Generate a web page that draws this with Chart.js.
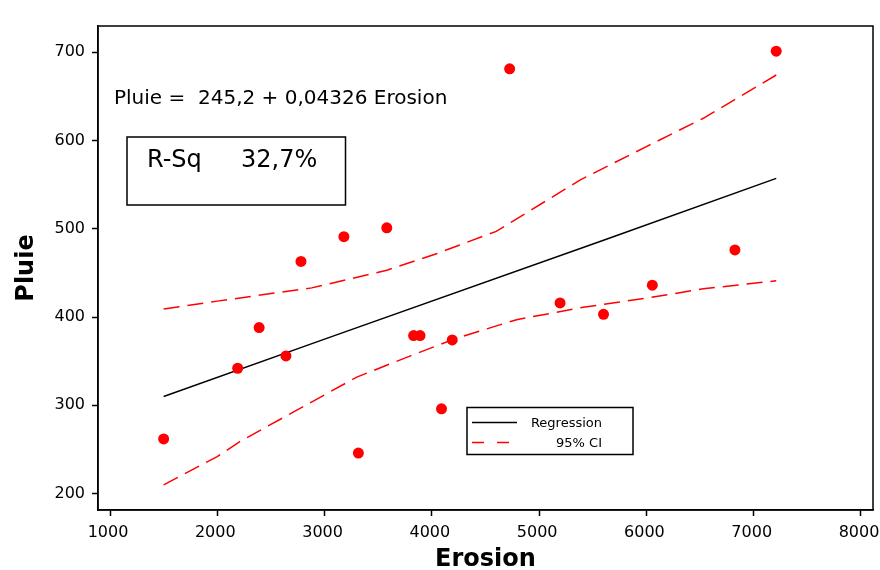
<!DOCTYPE html>
<html>
<head>
<meta charset="utf-8">
<script src="https://cdn.jsdelivr.net/npm/chart.js@4/dist/chart.umd.min.js"></script>
<style>
  body { margin: 0; background: #fff; }
  canvas { display: block; }
</style>
</head>
<body>
<canvas id="regChart" width="880" height="570"></canvas>
<script>
const erosion = [1500, 2190, 2390, 2640, 2780, 3180, 3580, 3315, 3830, 3890, 4090, 4190, 4725, 5195, 5600, 6055, 6825, 7210];
const pluie = [262, 342, 388, 356, 463, 491, 501, 246, 379, 379, 296, 374, 681, 416, 403, 436, 476, 701];

// fitted line and 95% CI bands, as drawn
const regX = [1500, 3000, 5600, 7210];
const regY = [310, 375, 487, 557];
const ciUpperX = [1500, 2000, 2880, 3580, 4050, 4600, 5380, 6000, 6530, 7210];
const ciUpperY = [409, 418, 433, 453, 472, 497, 555, 593, 625, 674];
const ciLowerX = [1500, 2000, 2210, 3300, 3800, 4230, 4790, 5410, 6035, 6530, 7210];
const ciLowerY = [210, 242, 259, 332, 356, 376, 397, 411, 422, 432, 441];

const xTicks = [1000, 2000, 3000, 4000, 5000, 6000, 7000, 8000];
const yTicks = [200, 300, 400, 500, 600, 700];

const xTitle = "Erosion";
const yTitle = "Pluie";
const equationText = "Pluie =  245,2 + 0,04326 Erosion";
const rSqLabel = "R-Sq";
const rSqValue = "32,7%";
const legendLabels = ["Regression", "95% CI"];

const FONT = "'DejaVu Sans', Verdana, sans-serif";
const RED = "#ff0000";

function pairs(xs, ys) {
  return xs.map((x, i) => ({ x: x, y: ys[i] }));
}

// frame, equation, R-Sq box and legend box
const annotations = {
  id: "annotations",
  afterDraw(chart) {
    const ctx = chart.ctx;
    const a = chart.chartArea;
    ctx.save();
    ctx.strokeStyle = "#000";
    ctx.lineWidth = 1.5;
    ctx.strokeRect(a.left, a.top, a.right - a.left, a.bottom - a.top);

    ctx.fillStyle = "#000";
    ctx.textBaseline = "alphabetic";
    ctx.font = "20px " + FONT;
    ctx.fillText(equationText, 114, 104);

    ctx.strokeRect(127, 137, 218.5, 68);
    ctx.font = "24px " + FONT;
    ctx.fillText(rSqLabel, 147, 167);
    ctx.fillText(rSqValue, 241, 167);

    // legend
    ctx.strokeRect(467, 407.5, 166, 47);
    ctx.beginPath();
    ctx.moveTo(472, 422.5);
    ctx.lineTo(517, 422.5);
    ctx.stroke();
    ctx.strokeStyle = RED;
    ctx.setLineDash([12, 13]);
    ctx.beginPath();
    ctx.moveTo(472, 442.5);
    ctx.lineTo(514, 442.5);
    ctx.stroke();
    ctx.setLineDash([]);
    ctx.font = "13px " + FONT;
    ctx.textAlign = "right";
    ctx.fillText(legendLabels[0], 602, 427);
    ctx.fillText(legendLabels[1], 602, 447);
    ctx.restore();
  },
};

new Chart(document.getElementById("regChart"), {
  type: "scatter",
  data: {
    datasets: [
      {
        label: "Data",
        data: pairs(erosion, pluie),
        backgroundColor: RED,
        borderWidth: 0,
        pointRadius: 5.5,
        pointHoverRadius: 5.5,
      },
      {
        label: legendLabels[0],
        data: pairs(regX, regY),
        showLine: true,
        borderColor: "#000",
        borderWidth: 1.5,
        pointRadius: 0,
      },
      {
        label: legendLabels[1],
        data: pairs(ciUpperX, ciUpperY),
        showLine: true,
        borderColor: RED,
        borderWidth: 1.5,
        borderDash: [16, 8],
        pointRadius: 0,
      },
      {
        label: legendLabels[1] + " lower",
        data: pairs(ciLowerX, ciLowerY),
        showLine: true,
        borderColor: RED,
        borderWidth: 1.5,
        borderDash: [16, 8],
        pointRadius: 0,
      },
    ],
  },
  options: {
    responsive: false,
    animation: false,
    layout: { padding: { left: 0, right: 7, top: 26, bottom: -4 } },
    plugins: {
      legend: { display: false },
      tooltip: { enabled: false },
    },
    scales: {
      x: {
        type: "linear",
        min: 888,
        max: 8112,
        afterBuildTicks: (axis) => {
          axis.ticks = xTicks.map((v) => ({ value: v }));
        },
        afterFit: (axis) => {
          axis.height = 64;
          axis.paddingLeft = 0;
          axis.paddingRight = 0;
        },
        grid: {
          drawOnChartArea: false,
          tickLength: 6,
          tickColor: "#000",
          tickWidth: 1.5,
        },
        border: { color: "#000", width: 1.5 },
        ticks: {
          color: "#000",
          font: { family: FONT, size: 16 },
          padding: 7,
          labelOffset: -2,
          maxRotation: 0,
          callback: (v) => String(v),
        },
        title: {
          display: true,
          text: xTitle,
          color: "#000",
          font: { family: FONT, size: 24, weight: "bold" },
          padding: { top: 0, bottom: 0 },
        },
      },
      y: {
        type: "linear",
        min: 181.5,
        max: 729.5,
        afterBuildTicks: (axis) => {
          axis.ticks = yTicks.map((v) => ({ value: v }));
        },
        afterFit: (axis) => {
          axis.width = 98;
        },
        grid: {
          drawOnChartArea: false,
          tickLength: 6,
          tickColor: "#000",
          tickWidth: 1.5,
        },
        border: { color: "#000", width: 1.5 },
        ticks: {
          color: "#000",
          font: { family: FONT, size: 16 },
          padding: 7,
          callback: (v) => String(v),
        },
        title: {
          display: true,
          text: yTitle,
          color: "#000",
          font: { family: FONT, size: 24, weight: "bold" },
          padding: { top: 12, bottom: 0 },
        },
      },
    },
  },
  plugins: [annotations],
});
</script>
</body>
</html>
